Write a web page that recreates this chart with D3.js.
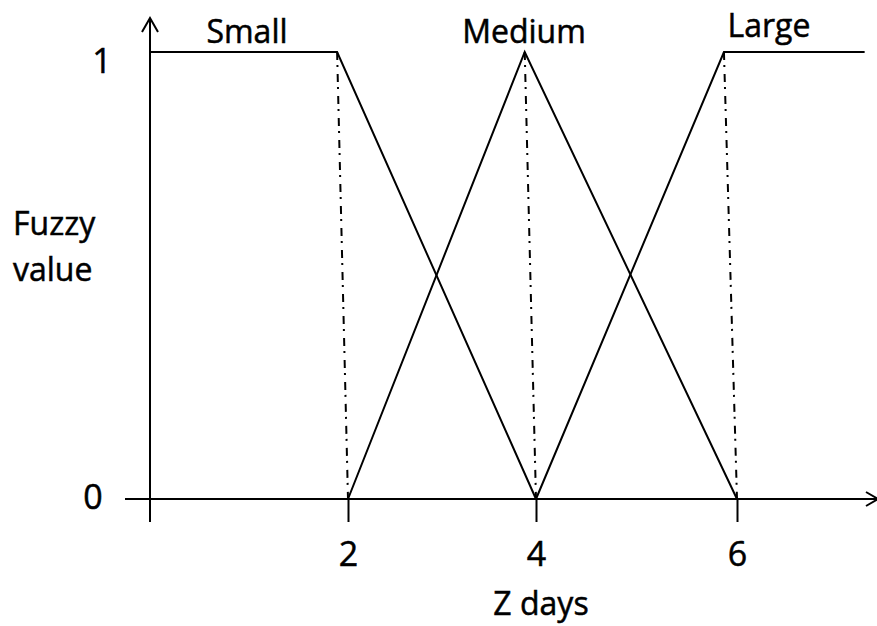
<!DOCTYPE html>
<html>
<head>
<meta charset="utf-8">
<script src="https://cdn.jsdelivr.net/npm/d3@7"></script>
<style>
  body { margin: 0; background: #fff; }
  text { font-family: "Open Sans", Lato, sans-serif; fill: #000; stroke: #000; stroke-width: 0.5px; }
</style>
</head>
<body>
<div id="chart"></div>
<script>
// membership functions (x in days, y in fuzzy value)
var smallX = [0, 1.89, 4];
var smallY = [1, 1, 0];
var mediumX = [2, 3.88, 6];
var mediumY = [0, 1, 0];
var largeX = [4, 5.87, 7.27];
var largeY = [0, 1, 1];

var setNames = ["Small", "Medium", "Large"];
var xTicks = [2, 4, 6];
var yTicks = [0, 1];
var xTitle = "Z days";
var yTitle = ["Fuzzy", "value"];

var w = 877;
var h = 626;
var fs = "32px";

// the drawing is a little uneven, so a piecewise scale keeps the ticks where they sit
var x = d3.scaleLinear()
	.domain([0, 2, 4, 6])
	.range([150, 348, 536, 737]);

var y = d3.scaleLinear()
	.domain([0, 1])
	.range([499, 52]);

var svg = d3.select("#chart")
	.append("svg")
	.attr("width", w)
	.attr("height", h)
	.style("background", "#FFFFFF");

var ink = "#000";

// axis lines with open arrow heads
var axes = svg.append("g")
	.attr("stroke", ink)
	.attr("stroke-width", 2)
	.attr("fill", "none");

axes.append("line")
	.attr("x1", x(0)).attr("x2", x(0))
	.attr("y1", 522).attr("y2", 18);
axes.append("path")
	.attr("d", "M" + (x(0) - 8) + ",32 L" + x(0) + ",18 L" + (x(0) + 8) + ",32");

axes.append("line")
	.attr("x1", 125).attr("x2", 878)
	.attr("y1", y(0)).attr("y2", y(0));
axes.append("path")
	.attr("d", "M866," + (y(0) - 7) + " L878," + y(0) + " L866," + (y(0) + 7));

// x ticks below the axis
var xAxis = d3.axisBottom(x)
	.tickValues(xTicks)
	.tickSize(23)
	.tickFormat(d3.format("d"));

var gx = svg.append("g")
	.attr("transform", "translate(0," + y(0) + ")")
	.call(xAxis);
gx.select(".domain").remove();
gx.selectAll(".tick line").attr("stroke", ink).attr("stroke-width", 2);
gx.selectAll(".tick text")
	.attr("y", 67)
	.attr("dy", 0)
	.attr("fill", "#000")
	.style("font-size", "34px");

var yAxis = d3.axisLeft(y)
	.tickValues(yTicks)
	.tickSize(0)
	.tickFormat(d3.format("d"));

var gy = svg.append("g")
	.attr("transform", "translate(" + x(0) + ",0)")
	.call(yAxis);
gy.select(".domain").remove();
gy.selectAll(".tick text")
	.attr("x", function(d){ return d === 1 ? -48 : -57; })
	.attr("y", function(d){ return d === 1 ? 20 : 9; })
	.attr("dy", 0)
	.attr("text-anchor", "middle")
	.attr("fill", "#000")
	.style("font-size", "34px");

// dash-dot guides from each peak down to its tick
var sets = [
	{ name: setNames[0], xs: smallX, ys: smallY, peak: 1, foot: xTicks[0] },
	{ name: setNames[1], xs: mediumX, ys: mediumY, peak: 1, foot: xTicks[1] },
	{ name: setNames[2], xs: largeX, ys: largeY, peak: 1, foot: xTicks[2] }
];

svg.selectAll(".guide")
	.data(sets)
	.enter()
	.append("line")
	.attr("class", "guide")
	.attr("x1", function(d){ return x(d.xs[d.peak]); })
	.attr("y1", function(d){ return y(d.ys[d.peak]); })
	.attr("x2", function(d){ return x(d.foot); })
	.attr("y2", y(0))
	.attr("stroke", ink)
	.attr("stroke-width", 2)
	.attr("stroke-dasharray", "8,5,2,7");

var line = d3.line()
	.x(function(d){ return x(d[0]); })
	.y(function(d){ return y(d[1]); });

svg.selectAll(".mf")
	.data(sets)
	.enter()
	.append("path")
	.attr("class", "mf")
	.attr("d", function(d){ return line(d3.zip(d.xs, d.ys)); })
	.attr("fill", "none")
	.attr("stroke", ink)
	.attr("stroke-width", 2);

// set names above the peaks
var labelPos = [[247, 43], [524, 43], [769, 37]];
svg.selectAll(".name")
	.data(sets)
	.enter()
	.append("text")
	.attr("class", "name")
	.attr("x", function(d, i){ return labelPos[i][0]; })
	.attr("y", function(d, i){ return labelPos[i][1]; })
	.attr("text-anchor", "middle")
	.style("font-size", fs)
	.text(function(d){ return d.name; });

svg.append("text")
	.attr("x", 541)
	.attr("y", 615)
	.attr("text-anchor", "middle")
	.style("font-size", fs)
	.text(xTitle);

svg.selectAll(".ytitle")
	.data(yTitle)
	.enter()
	.append("text")
	.attr("class", "ytitle")
	.attr("x", 13)
	.attr("y", function(d, i){ return 235 + i * 46; })
	.style("font-size", fs)
	.text(function(d){ return d; });
</script>
</body>
</html>
